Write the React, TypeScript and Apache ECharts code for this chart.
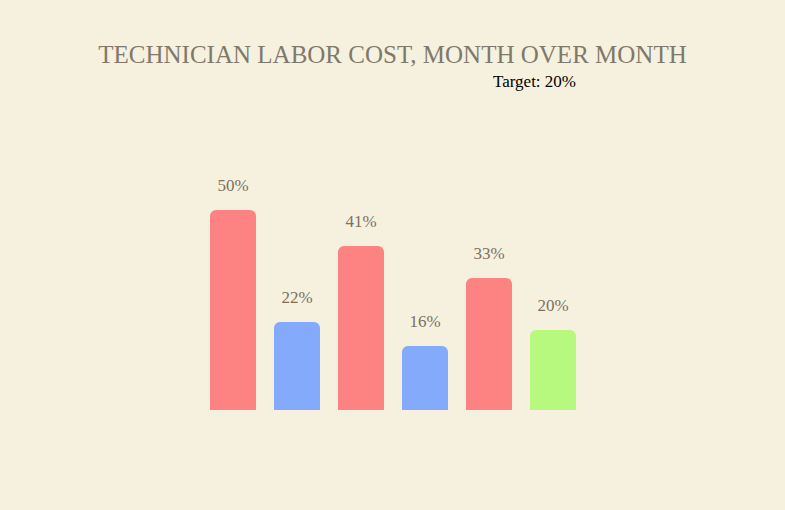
import { useEffect, useRef } from 'react'
import * as echarts from 'echarts'

const months = ['M1', 'M2', 'M3', 'M4', 'M5', 'M6']
const laborCost = [50, 22, 41, 16, 33, 20]
const barColors = ['#fd8383', '#84aafc', '#fd8383', '#84aafc', '#fd8383', '#b7f87f']
const targetLabel = 'Target: 20%'

export default function App() {
  const chartRef = useRef<HTMLDivElement | null>(null)

  useEffect(() => {
    if (!chartRef.current) {
      return
    }

    const chart = echarts.init(chartRef.current, null, { renderer: 'svg' })
    chart.setOption({
      animation: false,
      backgroundColor: '#f5f1de',
      title: {
        text: 'TECHNICIAN LABOR COST, MONTH OVER MONTH',
        left: 'center',
        top: 37,
        textStyle: {
          fontFamily: 'Liberation Serif',
          fontSize: 25,
          fontWeight: 'normal',
          color: '#80786a',
        },
      },
      graphic: [
        {
          type: 'text',
          left: 493,
          top: 73,
          style: {
            text: targetLabel,
            font: '17px "Liberation Serif"',
            fill: '#000000',
          },
        },
      ],
      grid: { left: 201, right: 200, top: 10, bottom: 100 },
      xAxis: {
        type: 'category',
        data: months,
        show: false,
      },
      yAxis: {
        type: 'value',
        min: 0,
        max: 100,
        show: false,
      },
      series: [
        {
          type: 'bar',
          barWidth: 46,
          data: laborCost.map((v, i) => ({ value: v, itemStyle: { color: barColors[i] } })),
          itemStyle: { borderRadius: [6, 6, 0, 0] },
          label: {
            show: true,
            position: 'top',
            distance: 16,
            formatter: '{c}%',
            fontFamily: 'Liberation Serif',
            fontSize: 17,
            color: '#7d705f',
          },
        },
      ],
    })

    return () => {
      chart.dispose()
    }
  }, [])

  return (
    <div
      ref={chartRef}
      style={{ position: 'fixed', left: 0, top: 0, width: 785, height: 510 }}
    />
  )
}
